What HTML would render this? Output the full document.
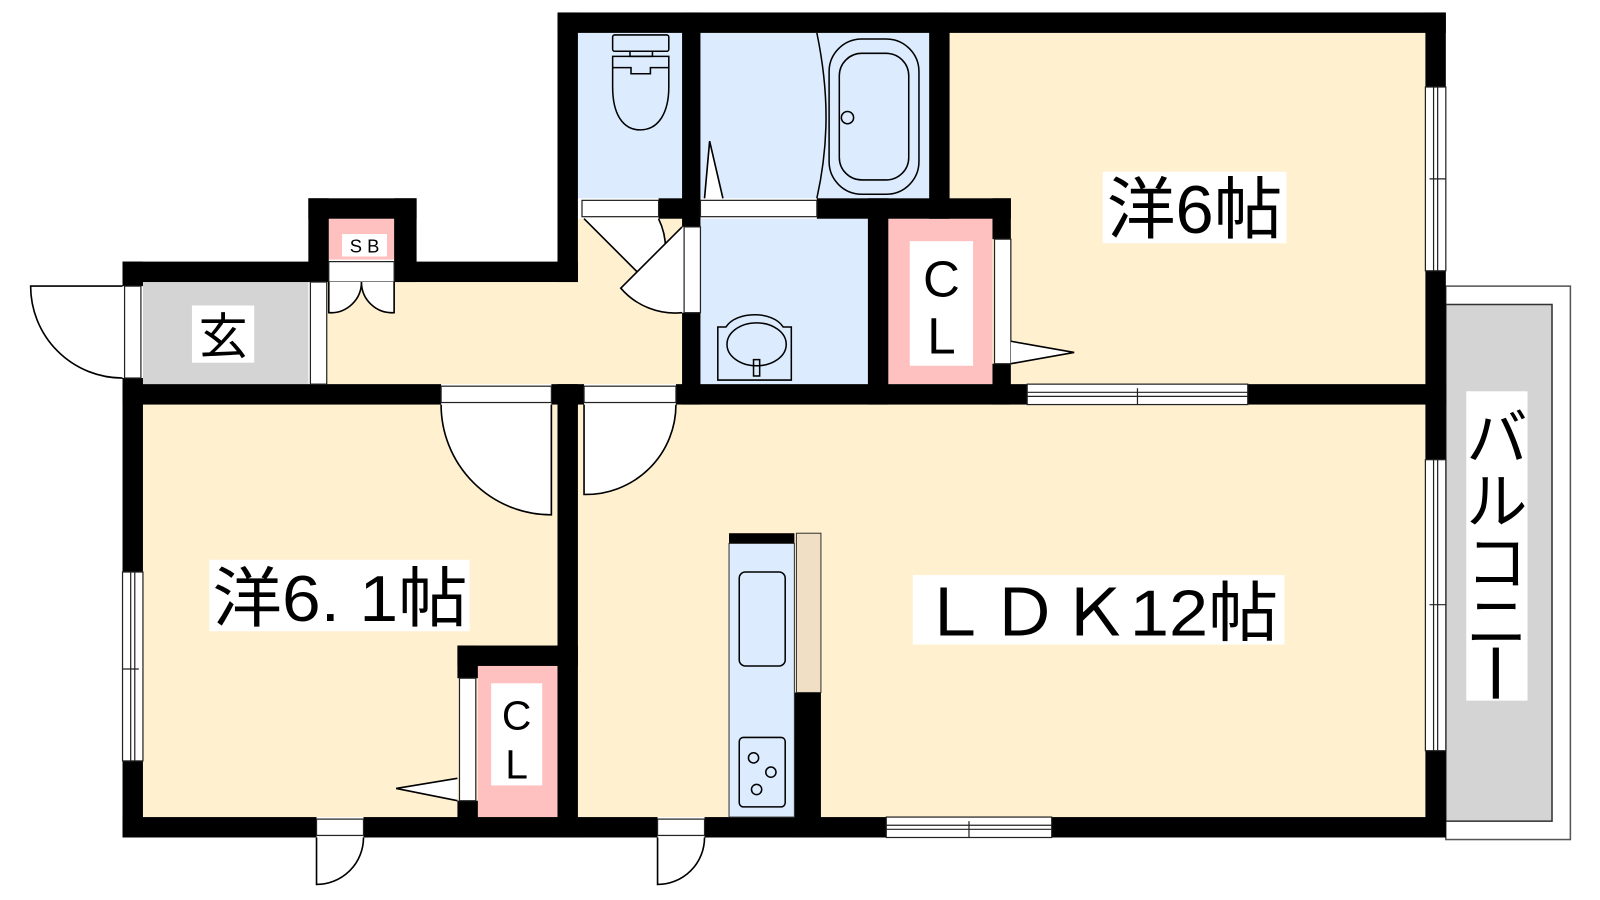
<!DOCTYPE html>
<html><head><meta charset="utf-8"><style>html,body{margin:0;padding:0;background:#fff;width:1600px;height:900px;overflow:hidden}svg{display:block}text{font-family:"Liberation Sans","Noto Sans CJK JP",sans-serif;fill:#000}</style></head>
<body>
<svg width="1600" height="900" viewBox="0 0 1567 881" xmlns="http://www.w3.org/2000/svg">
<!-- floors -->
<rect x="930" y="32" width="466" height="344" fill="#fff1d0"/>
<rect x="140" y="396" width="406" height="404" fill="#fff1d0"/>
<rect x="566" y="396" width="830" height="404" fill="#fff1d0"/>
<rect x="320" y="276" width="348" height="100" fill="#fff1d0"/>
<rect x="566" y="214" width="102" height="62" fill="#fff1d0"/>
<rect x="140" y="276" width="162" height="100" fill="#d4d4d4"/>
<rect x="566" y="32" width="102" height="162" fill="#dcecfe"/>
<rect x="686" y="32" width="224" height="162" fill="#dcecfe"/>
<rect x="686" y="214" width="164" height="162" fill="#dcecfe"/>
<rect x="870" y="214" width="102" height="162" fill="#ffc0c0"/>
<rect x="468" y="652" width="78" height="148" fill="#ffc0c0"/>
<rect x="322" y="214" width="64" height="40" fill="#ffc0c0"/>
<!-- balcony -->
<rect x="1416" y="280" width="122" height="542" fill="#fff" stroke="#555" stroke-width="1.5"/>
<rect x="1416" y="298" width="104" height="506" fill="#d4d4d4" stroke="#333" stroke-width="1.5"/>
<!-- walls -->
<g fill="#000">
<rect x="546" y="12" width="870" height="20"/>
<rect x="1396" y="12" width="20" height="73"/>
<rect x="1396" y="265" width="20" height="185"/>
<rect x="1396" y="735" width="20" height="85"/>
<rect x="546" y="12" width="20" height="264"/>
<rect x="120" y="256" width="446" height="20"/>
<rect x="302" y="194" width="106" height="20"/>
<rect x="302" y="194" width="20" height="82"/>
<rect x="386" y="194" width="22" height="82"/>
<rect x="120" y="256" width="20" height="24"/>
<rect x="120" y="370" width="20" height="190"/>
<rect x="120" y="745" width="20" height="75"/>
<rect x="120" y="800" width="190" height="20"/>
<rect x="356" y="800" width="288" height="20"/>
<rect x="690" y="800" width="178" height="20"/>
<rect x="1030" y="800" width="386" height="20"/>
<rect x="120" y="376" width="312" height="20"/>
<rect x="540" y="376" width="32" height="20"/>
<rect x="662" y="376" width="344" height="20"/>
<rect x="1222" y="376" width="194" height="20"/>
<rect x="546" y="376" width="20" height="444"/>
<rect x="668" y="12" width="18" height="210"/>
<rect x="668" y="306" width="18" height="90"/>
<rect x="645" y="194" width="41" height="20"/>
<rect x="910" y="12" width="20" height="202"/>
<rect x="800" y="194" width="190" height="20"/>
<rect x="850" y="194" width="20" height="202"/>
<rect x="972" y="194" width="18" height="40"/>
<rect x="972" y="356" width="18" height="40"/>
<rect x="448" y="632" width="118" height="20"/>
<rect x="448" y="632" width="20" height="32"/>
<rect x="448" y="784" width="20" height="36"/>
<rect x="714" y="522" width="64" height="10"/>
<rect x="778" y="678" width="26" height="142"/>
</g>
<!-- kitchen -->
<rect x="714" y="532" width="64" height="268" fill="#dcecfe" stroke="#333" stroke-width="1"/>
<rect x="780" y="522" width="24" height="156" fill="#f0dfc4" stroke="#333" stroke-width="1"/>
<rect x="724" y="560" width="45" height="92" rx="6" fill="none" stroke="#000" stroke-width="1.5"/>
<rect x="724" y="722" width="45" height="68" rx="4" fill="none" stroke="#000" stroke-width="1.5"/>
<g fill="none" stroke="#000" stroke-width="1.5"><circle cx="738" cy="742" r="5"/><circle cx="755" cy="756" r="5"/><circle cx="741" cy="773" r="5"/></g>
<!-- windows -->
<g fill="#fff" stroke="#222" stroke-width="1.2">
<rect x="1396" y="85" width="20" height="180"/><line x1="1404" y1="85" x2="1404" y2="265"/><line x1="1408" y1="85" x2="1408" y2="265"/><line x1="1400" y1="175" x2="1416" y2="175"/>
<rect x="1396" y="450" width="20" height="285"/><line x1="1404" y1="450" x2="1404" y2="735"/><line x1="1408" y1="450" x2="1408" y2="735"/><line x1="1400" y1="592" x2="1416" y2="592"/>
<rect x="120" y="560" width="20" height="185"/><line x1="128" y1="560" x2="128" y2="745"/><line x1="132" y1="560" x2="132" y2="745"/><line x1="120" y1="655" x2="136" y2="655"/>
<rect x="1006" y="376" width="216" height="20"/><line x1="1006" y1="384" x2="1222" y2="384"/><line x1="1006" y1="388" x2="1222" y2="388"/><line x1="1114" y1="380" x2="1114" y2="396"/>
<rect x="868" y="800" width="162" height="20"/><line x1="868" y1="808" x2="1030" y2="808"/><line x1="868" y1="812" x2="1030" y2="812"/><line x1="949" y1="804" x2="949" y2="820"/>
<!-- door frames -->
<rect x="432" y="378" width="108" height="16"/><rect x="572" y="378" width="90" height="16"/>
<rect x="310" y="802" width="46" height="16"/><rect x="644" y="802" width="46" height="16"/>
<rect x="122" y="280" width="16" height="90"/><rect x="304" y="276" width="16" height="100"/>
<rect x="322" y="256" width="64" height="20"/>
<rect x="570" y="196" width="75" height="16"/><rect x="686" y="196" width="114" height="16"/>
<rect x="670" y="222" width="16" height="84"/>
<rect x="974" y="234" width="16" height="122"/><rect x="450" y="664" width="16" height="120"/>
</g>
<!-- door swings -->
<g fill="#fff" stroke="#000" stroke-width="1.6">
<path d="M432 396 A108 108 0 0 0 540 504 L540 396"/>
<path d="M572 396 L572 484 A88 88 0 0 0 662 396"/>
<path d="M310 820 L310 866 A46 46 0 0 0 356 820"/>
<path d="M644 820 L644 866 A46 46 0 0 0 690 820"/>
<path d="M120 280 L30 280 A90 90 0 0 0 120 370"/>
<path d="M322 276 L322 306 A30 30 0 0 0 354 276 A30 30 0 0 0 386 306 L386 276"/>
<path d="M572 214 L640 282 A68 68 0 0 0 645 214"/>
<path d="M668 222 L608 282 A70 70 0 0 0 668 306"/>
<path d="M990 334 L1052 345 L990 356"/>
<path d="M448 762 L388 772 L448 784"/>
<path d="M690 194 L695 138 L708 194"/>
</g>
<!-- toilet -->
<g fill="none" stroke="#000" stroke-width="1.5">
<rect x="600" y="34" width="55" height="16" rx="2"/>
<path d="M617 50 v5 h22 v-5"/>
<path d="M600 55 h55 v30 c0 25 -10 42 -28 42 c-18 0 -27 -17 -27 -42 z"/>
<path d="M600 66 h18 v6 h19 v-6 h18"/>
<!-- tub -->
<rect x="812" y="38" width="88" height="152" rx="32"/>
<rect x="822" y="52" width="68" height="124" rx="22"/>
<circle cx="830" cy="115" r="6"/>
<path d="M800 32 C812 90 812 140 800 194"/>
<!-- sink -->
<path d="M703 320 h8 c10 -16 46 -16 56 0 h8 v52 h-72 z"/>
<ellipse cx="741" cy="337" rx="29" ry="21"/>
<rect x="738" y="352" width="6" height="16"/>
</g>
<!-- labels -->
<rect x="188" y="299" width="61" height="56" fill="#fff"/>
<text x="218.5" y="346" font-size="48" text-anchor="middle">玄</text>
<rect x="335" y="229" width="44" height="22" fill="#fff"/>
<text x="357" y="247" font-size="18" text-anchor="middle">S B</text>
<rect x="1080" y="168" width="180" height="70" fill="#fff"/>
<text x="1084" y="228" font-size="66" textLength="172" lengthAdjust="spacingAndGlyphs">洋6帖</text>
<rect x="205" y="548" width="255" height="70" fill="#fff"/>
<text x="208" y="608" font-size="64" textLength="250" lengthAdjust="spacingAndGlyphs">洋6. 1帖</text>
<rect x="894" y="563" width="364" height="68" fill="#fff"/>
<text x="900" y="622" font-size="64" textLength="352" lengthAdjust="spacingAndGlyphs">ＬＤＫ12帖</text>
<rect x="1436" y="383" width="60" height="303" fill="#fff"/>
<text x="1466" y="450" font-size="60" text-anchor="middle">バ</text>
<text x="1466" y="512" font-size="60" text-anchor="middle">ル</text>
<text x="1466" y="572" font-size="60" text-anchor="middle">コ</text>
<text x="1466" y="630" font-size="60" text-anchor="middle">ニ</text>
<rect x="1462" y="634" width="6" height="50" fill="#000"/>
<rect x="891" y="236" width="62" height="122" fill="#fff"/>
<text x="922" y="290" font-size="50" text-anchor="middle">C</text>
<text x="922" y="346" font-size="50" text-anchor="middle">L</text>
<rect x="481" y="669" width="50" height="100" fill="#fff"/>
<text x="506" y="714" font-size="40" text-anchor="middle">C</text>
<text x="506" y="762" font-size="40" text-anchor="middle">L</text>
</svg>
</body></html>
